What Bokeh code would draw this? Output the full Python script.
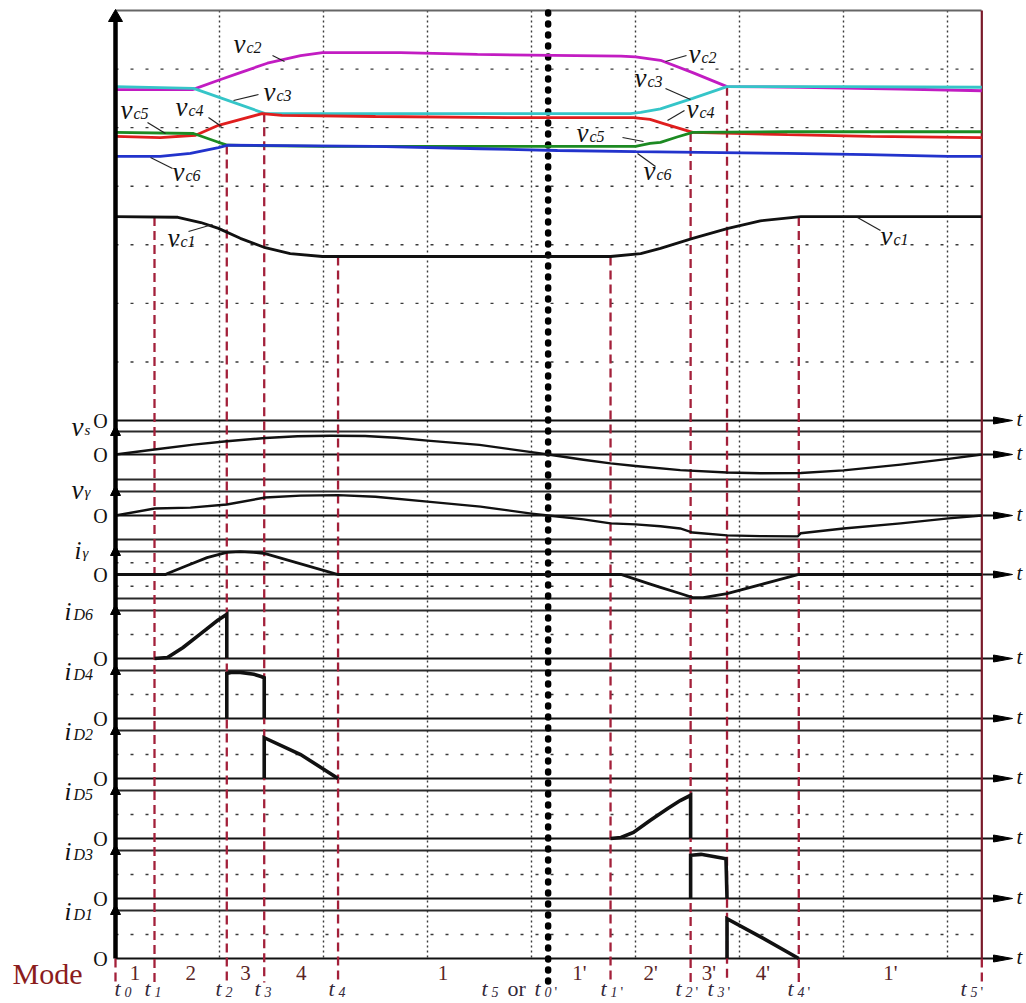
import numpy as np
from bokeh.plotting import figure
from bokeh.models import Range1d
from bokeh.embed import file_html
from bokeh.resources import INLINE
from bokeh.core.properties import value

# ---------------- data (time unit = one grid division) ----------------
inst_names = ["t0", "t1", "t2", "t3", "t4", "t5", "t1'", "t2'", "t3'", "t4'", "t5'"]
t_inst = [0.0, 0.375, 1.07, 1.43, 2.14, 4.16, 4.76, 5.53, 5.88, 6.57, 8.33]
mode_names = ["1", "2", "3", "4", "1", "1'", "2'", "3'", "4'", "1'"]

# top panel: capacitor voltages (one unit = one grid division)
vc2_t = [0, 0.74, 0.99, 1.20, 1.46, 1.78, 1.99, 2.74, 3.48, 4.86, 5.00, 5.24, 5.55, 5.88, 6.59, 7.55, 8.33]
vc2_v = [5.65, 5.65, 5.81, 5.94, 6.10, 6.23, 6.28, 6.28, 6.25, 6.22, 6.21, 6.15, 5.94, 5.70, 5.69, 5.66, 5.63]
vc3_t = [0, 0.75, 1.44, 4.95, 5.05, 5.24, 5.55, 5.88, 7.0, 8.33]
vc3_v = [5.70, 5.67, 5.24, 5.24, 5.26, 5.32, 5.50, 5.70, 5.70, 5.69]
vc4_t = [0, 0.43, 0.77, 0.99, 1.41, 1.60, 2.50, 3.77, 4.98, 5.14, 5.27, 5.55, 6.46, 7.26, 8.33]
vc4_v = [4.85, 4.83, 4.87, 5.04, 5.24, 5.21, 5.19, 5.17, 5.17, 5.14, 5.07, 4.92, 4.88, 4.85, 4.83]
vc5_t = [0, 0.75, 0.99, 1.08, 2.00, 5.00, 5.14, 5.24, 5.40, 5.55, 6.46, 8.33]
vc5_v = [4.92, 4.90, 4.75, 4.70, 4.68, 4.68, 4.73, 4.75, 4.84, 4.92, 4.93, 4.93]
vc6_t = [0, 0.43, 0.72, 0.99, 1.08, 2.50, 3.51, 4.25, 5.00, 6.46, 7.23, 8.01, 8.33]
vc6_v = [4.51, 4.51, 4.56, 4.66, 4.70, 4.68, 4.64, 4.61, 4.59, 4.56, 4.54, 4.51, 4.51]
vc1_t = [0, 0.60, 0.82, 0.99, 1.20, 1.44, 1.68, 1.99, 4.76, 5.05, 5.24, 5.55, 5.89, 6.20, 6.59, 8.33]
vc1_v = [3.48, 3.47, 3.38, 3.28, 3.11, 2.95, 2.85, 2.80, 2.80, 2.85, 2.94, 3.11, 3.28, 3.41, 3.48, 3.48]

# lower panels (normalised to panel height)
vs_t = [0, 0.375, 0.75, 1.07, 1.44, 1.75, 2.07, 2.40, 2.70, 3.00, 3.50, 4.00, 4.16, 4.50, 4.76, 5.00, 5.43, 5.88, 6.20, 6.59, 7.00, 7.55, 8.01, 8.33]
vs_v = [0, 0.21, 0.41, 0.55, 0.69, 0.76, 0.78, 0.77, 0.70, 0.58, 0.40, 0.10, 0.0, -0.22, -0.37, -0.48, -0.65, -0.75, -0.78, -0.77, -0.66, -0.42, -0.18, 0.0]
vr_t = [0, 0.375, 0.72, 1.07, 1.44, 1.78, 2.14, 2.50, 3.00, 3.51, 4.00, 4.16, 4.50, 4.76, 5.00, 5.24, 5.43, 5.55, 5.88, 6.20, 6.56, 6.59, 7.00, 7.55, 8.01, 8.33]
vr_v = [0, 0.29, 0.33, 0.46, 0.75, 0.83, 0.85, 0.78, 0.58, 0.37, 0.08, 0.0, -0.16, -0.33, -0.37, -0.45, -0.54, -0.71, -0.83, -0.86, -0.87, -0.74, -0.54, -0.33, -0.12, 0.0]
ir_t = [0, 0.48, 0.50, 0.69, 0.88, 1.07, 1.20, 1.33, 1.44, 2.14, 4.76, 4.86, 5.12, 5.24, 5.43, 5.55, 5.65, 5.88, 6.57, 8.33]
ir_v = [0, 0, 0.04, 0.38, 0.72, 0.94, 0.97, 0.94, 0.89, 0, 0, 0, -0.38, -0.55, -0.81, -0.98, -0.98, -0.81, 0, 0]
iD6_t = [0.375, 0.50, 0.65, 0.82, 0.98, 1.07, 1.07]
iD6_v = [0, 0.02, 0.23, 0.52, 0.79, 0.92, 0]
iD4_t = [1.07, 1.07, 1.11, 1.20, 1.33, 1.40, 1.43, 1.43]
iD4_v = [0, 0.94, 0.96, 0.96, 0.92, 0.875, 0.85, 0]
iD2_t = [1.43, 1.43, 1.78, 2.14]
iD2_v = [0, 0.85, 0.50, 0]
iD5_t = [4.76, 4.86, 4.98, 5.14, 5.31, 5.43, 5.53, 5.53]
iD5_v = [0, 0.02, 0.125, 0.375, 0.625, 0.79, 0.90, 0]
iD3_t = [5.53, 5.53, 5.63, 5.75, 5.87, 5.88]
iD3_v = [0, 0.90, 0.92, 0.875, 0.83, 0]
iD1_t = [5.88, 5.88, 6.22, 6.57]
iD1_v = [0, 0.83, 0.43, 0]

# ---------------- layout (reference pixel space) ----------------
X0, PXU = 115.0, 104.0          # x of t0, pixels per time unit
XR = 981.0                      # right edge of panels
XA = 1012.0                     # arrow tips on time axes
W, H = 1024, 1001
YT, YB = 0.0, float(H)
TEXT_DY = -7                    # baseline correction for text glyphs

# panels: name, zero row, px per unit, top row, bottom row (None = zero is bottom), mid dotted levels
panels = [
    ("top", 420, 58.57, 10, None, [1, 2, 3, 4, 5, 6]),
    ("vs", 454, 24.0, 431, 479, []),
    ("vr", 515, 24.0, 491, 539, []),
    ("ir", 574, 23.5, 551, 598, [0.5, -0.5]),
    ("iD6", 658, 48.0, 610, None, [0.5]),
    ("iD4", 718, 48.0, 670, None, [0.5]),
    ("iD2", 778, 48.0, 730, None, [0.5]),
    ("iD5", 838, 48.0, 790, None, [0.5]),
    ("iD3", 898, 48.0, 850, None, [0.5]),
    ("iD1", 958, 48.0, 910, None, [0.5]),
]
pz = {n: (z, s) for n, z, s, *_ in panels}

p = figure(width=W, height=H, x_range=Range1d(0, W), y_range=Range1d(YB, YT),
           x_axis_type=None, y_axis_type=None, toolbar_location=None,
           output_backend="svg", min_border=0, outline_line_color=None)
p.extra_x_ranges = {"time": Range1d((0 - X0) / PXU, (W - X0) / PXU)}
p.extra_y_ranges = {n: Range1d((z - YB) / s, (z - YT) / s) for n, z, s, *_ in panels}

def units(name, px):
    z, s = pz[name]
    return (z - px) / s

SERIF = value("Liberation Serif")
GRID = "#3a3a3a"
RED = "#A3203A"

# vertical dotted grid
gx = list(range(1, 9))
p.segment(x0=gx, y0=[10] * len(gx), x1=gx, y1=[958] * len(gx), x_range_name="time",
          line_color=GRID, line_width=1.4, line_dash="2 3")

# horizontal dotted grid + panel frames
for n, z, s, top, bot, mids in panels:
    for m in mids:
        p.segment(x0=[X0], x1=[XR], y0=[m], y1=[m], y_range_name=n,
                  line_color=GRID, line_width=1.4, line_dash="3 12")
    p.segment(x0=[X0], x1=[XR], y0=[top], y1=[top],
              line_color="#666666" if n == "top" else "#2a2a2a", line_width=1.8)
    if bot is not None:
        p.segment(x0=[X0], x1=[XR], y0=[bot], y1=[bot], line_color="#2a2a2a", line_width=1.8)
    p.segment(x0=[X0], x1=[XA - 10], y0=[z], y1=[z], line_color="#111111", line_width=2.2)

# red mode boundaries
hang = {1: (vc1_t, vc1_v), 2: (vc6_t, vc6_v), 3: (vc3_t, vc3_v), 4: (vc1_t, vc1_v),
        6: (vc1_t, vc1_v), 7: (vc5_t, vc5_v), 8: (vc2_t, vc2_v), 9: (vc1_t, vc1_v)}
dx0, dy0, dy1 = [], [], []
for i, (ct, cv) in hang.items():
    dx0.append(t_inst[i]); dy0.append(float(np.interp(t_inst[i], ct, cv))); dy1.append(units("top", 982))
for i in (0, 10):
    dx0.append(t_inst[i]); dy0.append(units("top", 958)); dy1.append(units("top", 982))
p.segment(x0=dx0, x1=dx0, y0=dy0, y1=dy1, x_range_name="time", y_range_name="top",
          line_color=RED, line_width=2.3, line_dash="9 5")
p.segment(x0=[t_inst[10]], x1=[t_inst[10]], y0=[units("top", 10)], y1=[units("top", 958)],
          x_range_name="time", y_range_name="top", line_color="#7a1a2a", line_width=2.2)

# black dotted separator at t5 / t0'
p.segment(x0=[t_inst[5]], x1=[t_inst[5]], y0=[units("top", 12)], y1=[units("top", 982)],
          x_range_name="time", y_range_name="top", line_color="black", line_width=6.5,
          line_dash="1 10", line_cap="round")

# curves
top_curves = [(vc2_t, vc2_v, "#C21CC2"), (vc3_t, vc3_v, "#35C5C8"), (vc4_t, vc4_v, "#E01E1E"),
              (vc5_t, vc5_v, "#1C8A22"), (vc6_t, vc6_v, "#2233CC"), (vc1_t, vc1_v, "#111111")]
for ct, cv, col in top_curves:
    p.line(ct, cv, x_range_name="time", y_range_name="top", line_color=col, line_width=2.8)
for n, ct, cv, lw in [("vs", vs_t, vs_v, 2.4), ("vr", vr_t, vr_v, 2.4), ("ir", ir_t, ir_v, 2.8),
                      ("iD6", iD6_t, iD6_v, 3.6), ("iD4", iD4_t, iD4_v, 3.6), ("iD2", iD2_t, iD2_v, 3.6),
                      ("iD5", iD5_t, iD5_v, 3.6), ("iD3", iD3_t, iD3_v, 3.6), ("iD1", iD1_t, iD1_v, 3.6)]:
    p.line(ct, cv, x_range_name="time", y_range_name=n, line_color="#111111", line_width=lw,
           line_join="miter")

# left thick axis with up-arrows, right arrows on time axes
p.segment(x0=[X0], x1=[X0], y0=[16], y1=[958], line_color="black", line_width=4.5)
axs, ays = [], []
for n, z, s, top, bot, mids in panels:
    if n == "top":
        tip, hl, hw = 9, 12, 7
    else:
        tip, hl, hw = top - 6, 10, 5
    axs.append([X0, X0 - hw, X0 + hw]); ays.append([tip, tip + hl, tip + hl])
    axs.append([XA, XA - 19, XA - 19]); ays.append([z, z - 3.5, z + 3.5])
p.patches(axs, ays, fill_color="black", line_color="black", line_width=1)

# ---------------- text ----------------
def txt(x, y, s, size, style="italic", color="#111111", align="left", xr=None):
    kw = dict(text_font=SERIF, text_font_size=f"{size}px", text_font_style=style,
              text_color=color, text_align=align, text_baseline="alphabetic")
    if xr:
        kw["x_range_name"] = xr
    p.text(x=[x], y=[y + TEXT_DY], text=[s], **kw)

def sym(x, y, main, sub, size=26, subsize=15, dx=12, dy=4):
    txt(x, y, main, size)
    txt(x + dx, y + dy, sub, subsize)

# capacitor labels
cap_labels = [(233, 50, "c2"), (263, 98, "c3"), (175, 113, "c4"), (120, 116, "c5"), (172, 178, "c6"),
              (167, 244, "c1"), (688, 60, "c2"), (634, 84, "c3"), (686, 115, "c4"), (576, 139, "c5"),
              (643, 177, "c6"), (880, 242, "c1")]
for x, y, sub in cap_labels:
    sym(x, y, "ν", sub, size=27, subsize=16, dx=13, dy=4)
leaders = [(272, 55, 284, 61), (233, 100, 258, 94), (208, 117, 221, 126), (147, 122, 165, 133),
           (150, 157, 172, 168), (188, 231, 212, 224), (686, 55, 665, 61), (665, 88, 690, 99),
           (684, 110, 667, 120), (622, 137, 643, 141), (637, 153, 655, 166), (857, 217, 880, 230)]
p.segment(x0=[l[0] for l in leaders], y0=[l[1] for l in leaders], x1=[l[2] for l in leaders],
          y1=[l[3] for l in leaders], line_color="#222222", line_width=1.2)

# panel labels
sym(71, 433, "ν", "s", size=27, subsize=15, dx=13, dy=3)
sym(71, 496, "ν", "γ", size=27, subsize=15, dx=13, dy=2)
sym(74, 557, "i", "γ", size=25, subsize=15, dx=8, dy=2)
for n, z, s, top, bot, mids in panels[4:]:
    sym(64, top + 8, "i", n[1:], size=25, subsize=16, dx=9, dy=3)

# origin labels and time-axis labels
for n, z, s, top, bot, mids in panels:
    txt(100, z + 7, "O", 20, style="normal", align="center")
    txt(1016, z + 5, "t", 21)

# mode row
txt(12, 980, "Mode", 30, style="normal", color="#8B1C1C")
for k, mname in enumerate(mode_names):
    txt((t_inst[k] + t_inst[k + 1]) / 2, 979, mname, 21, style="normal", color="#5a2525",
        align="center", xr="time")

# instant labels
TC = "#33283a"
def tlab(x, sub, prime=False):
    txt(x, 995, "t", 22, color=TC)
    txt(x + 10, 998, sub, 14, color=TC)
    if prime:
        txt(x + 20, 998, "'", 15, style="normal", color=TC)

for x, sub, pr in [(114, "0", False), (144, "1", False), (215, "2", False), (254, "3", False),
                   (328, "4", False), (600, "1", True), (675, "2", True), (707, "3", True),
                   (787, "4", True), (960, "5", True)]:
    tlab(x, sub, pr)
tlab(481, "5")
txt(507, 995, "or", 22, style="normal", color=TC)
tlab(534, "0", True)

open("out.html", "w").write(file_html(p, INLINE))
